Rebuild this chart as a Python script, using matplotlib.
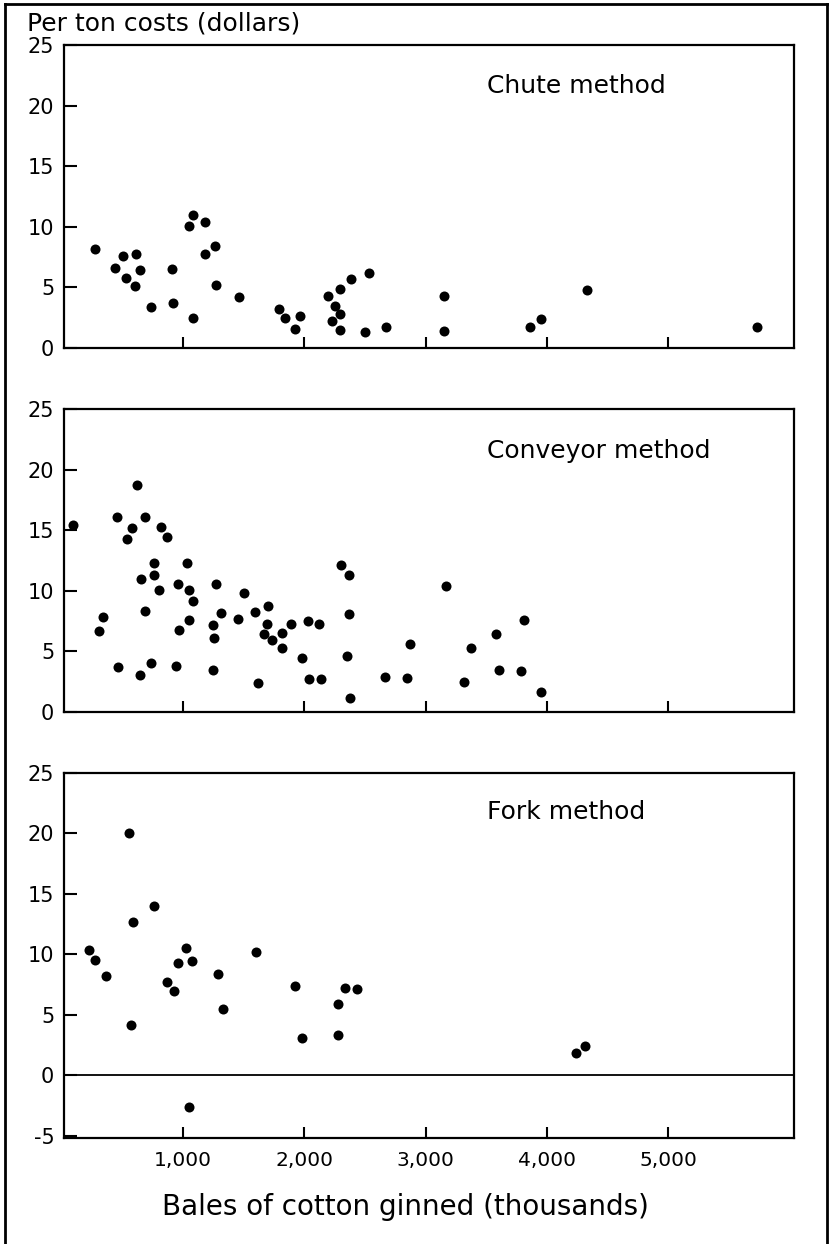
import matplotlib
matplotlib.use('Agg')
import matplotlib.pyplot as plt
from matplotlib.lines import Line2D

# ---------------- data ----------------
chute_x = [278, 443, 509, 531, 613, 605, 649, 737, 915, 920, 1052, 1085, 1082, 1187,
           1184, 1269, 1277, 1464, 1793, 1840, 1924, 1966, 2199, 2254, 2226, 2295,
           2292, 2292, 2383, 2504, 2534, 2677, 3151, 3154, 3862, 3949, 4328, 5733]
chute_y = [8.2, 6.6, 7.6, 5.75, 7.75, 5.15, 6.4, 3.4, 6.55, 3.75, 10.05, 10.95, 2.5, 10.4,
           7.75, 8.45, 5.2, 4.2, 3.2, 2.45, 1.57, 2.64, 4.27, 3.47, 2.23, 2.78,
           4.9, 1.49, 5.72, 1.29, 6.2, 1.7, 4.29, 1.4, 1.73, 2.39, 4.76, 1.73]

conveyor_x = [100, 309, 344, 462, 468, 545, 586, 627, 654, 649, 687, 687, 742, 767, 761,
              805, 819, 868, 959, 967, 948, 1033, 1055, 1082, 1055, 1274, 1253, 1258,
              1253, 1315, 1453, 1502, 1598, 1620, 1667, 1694, 1700, 1735, 1815, 1815,
              1891, 1979, 2029, 2040, 2122, 2142, 2300, 2372, 2366, 2355, 2374, 2668,
              2846, 2871, 3170, 3315, 3376, 3584, 3609, 3790, 3812, 3955]
conveyor_y = [15.4, 6.7, 7.83, 16.1, 3.7, 14.3, 15.2, 18.7, 11.0, 3.06, 16.06, 8.37, 4.07,
              12.3, 11.3, 10.05, 15.3, 14.4, 10.55, 6.8, 3.78, 12.26, 10.05, 9.15, 7.55,
              10.55, 7.16, 6.09, 3.5, 8.15, 7.66, 9.83, 8.26, 2.42, 6.42, 7.3, 8.73, 5.93,
              6.53, 5.31, 7.22, 4.49, 7.5, 2.73, 7.25, 2.73, 12.1, 11.3, 8.12, 4.6, 1.18,
              2.92, 2.78, 5.59, 10.4, 2.5, 5.31, 6.44, 3.44, 3.39, 7.58, 1.63]

fork_x = [229, 278, 369, 561, 591, 575, 767, 871, 928, 964, 1030, 1080, 1294, 1332,
          1601, 1922, 1979, 2276, 2281, 2336, 2432, 1053, 4242, 4313]
fork_y = [10.36, 9.54, 8.2, 20.06, 12.7, 4.18, 13.96, 7.7, 6.98, 9.26, 10.53, 9.48, 8.41,
          5.47, 10.17, 7.34, 3.08, 5.91, 3.3, 7.23, 7.09, -2.6, 1.8, 2.4]

panel_titles = ["Chute method", "Conveyor method", "Fork method"]
x_ticks = [1000, 2000, 3000, 4000, 5000]
x_tick_labels = ["1,000", "2,000", "3,000", "4,000", "5,000"]
y_ticks_top = [0, 5, 10, 15, 20, 25]
y_ticks_bottom = [-5, 0, 5, 10, 15, 20, 25]

# ---------------- figure ----------------
W, H = 830, 1244
fig = plt.figure(figsize=(W / 100, H / 100), dpi=100)
plt.rcParams['font.family'] = ['DejaVu Sans']

left = 64 / W
width = (794 - 64) / W
boxes = [(45, 348), (409, 712), (773, 1138)]
datasets = [(chute_x, chute_y), (conveyor_x, conveyor_y), (fork_x, fork_y)]
title_y = [0.865, 0.861, 0.893]

for i, ((top, bot), (xs, ys)) in enumerate(zip(boxes, datasets)):
    ax = fig.add_axes([left, 1 - bot / H, width, (bot - top) / H])
    ax.scatter(xs, ys, s=52, color='black', zorder=3, linewidths=0)
    ax.set_xlim(22, 6035)
    if i < 2:
        ax.set_ylim(0, 25)
        ax.set_yticks(y_ticks_top)
    else:
        ax.set_ylim(-5.2, 25)
        ax.set_yticks(y_ticks_bottom)
        ax.axhline(0, color='black', lw=1.3, zorder=2)
    ax.set_yticklabels([str(v) for v in ax.get_yticks().astype(int)])
    ax.set_xticks(x_ticks)
    if i == 2:
        ax.set_xticklabels(x_tick_labels)
    else:
        ax.set_xticklabels([])
    ax.tick_params(axis='y', direction='in', length=9.5, width=1.5, pad=7,
                   labelsize=15, right=False)
    ax.tick_params(axis='x', direction='in', length=8, width=1.5, pad=9,
                   labelsize=14.5, top=False)
    for sp in ax.spines.values():
        sp.set_linewidth(1.6)
    ax.text(0.58, title_y[i], panel_titles[i], transform=ax.transAxes,
            ha='left', va='center', fontsize=18)

fig.text(27 / W, 1 - 24 / H, "Per ton costs (dollars)", ha='left', va='center',
         fontsize=18)
fig.text(405 / W, 1 - 1207 / H, "Bales of cotton ginned (thousands)", ha='center',
         va='center', fontsize=20)

# outer frame
fx0, fx1, fy1 = 5 / W, 827 / W, 1 - 4 / H
fig.add_artist(Line2D([fx0, fx0], [0, fy1], transform=fig.transFigure, color='black', lw=2))
fig.add_artist(Line2D([fx0, fx1], [fy1, fy1], transform=fig.transFigure, color='black', lw=2))
fig.add_artist(Line2D([fx1, fx1], [0, fy1], transform=fig.transFigure, color='black', lw=2))

fig.savefig('out.png', dpi=100)
